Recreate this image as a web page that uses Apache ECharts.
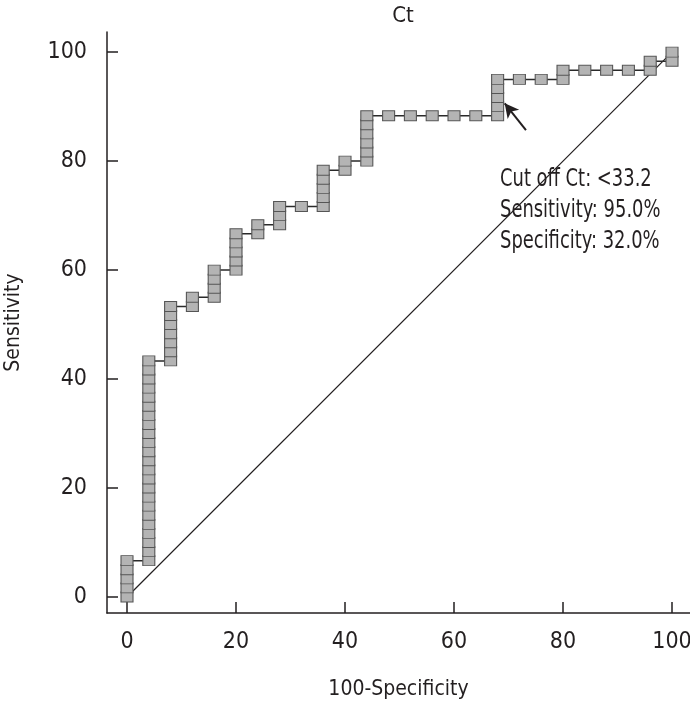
<!DOCTYPE html>
<html>
<head>
<meta charset="utf-8">
<script src="https://cdn.jsdelivr.net/npm/echarts@6/dist/echarts.min.js"></script>
<style>
  html, body { margin: 0; padding: 0; background: #fff; }
  #chart { width: 690px; height: 704px; }
</style>
</head>
<body>
<div id="chart"></div>
<script>
// ROC points (100-Specificity, Sensitivity)
const fpr = [
  0, 0, 0, 0, 0,
  4, 4, 4, 4, 4, 4, 4, 4, 4, 4, 4, 4, 4, 4, 4, 4, 4, 4, 4, 4, 4, 4, 4,
  8, 8, 8, 8, 8, 8, 8,
  12, 12,
  16, 16, 16, 16,
  20, 20, 20, 20, 20,
  24, 24,
  28, 28, 28,
  32,
  36, 36, 36, 36, 36,
  40, 40,
  44, 44, 44, 44, 44, 44,
  48, 52, 56, 60, 64,
  68, 68, 68, 68, 68,
  72, 76,
  80, 80,
  84, 88, 92,
  96, 96,
  100, 100
]
const sens = [
  0, 1.67, 3.33, 5, 6.67,
  6.67, 8.33, 10, 11.67, 13.33, 15, 16.67, 18.33, 20, 21.67, 23.33, 25, 26.67, 28.33, 30, 31.67, 33.33, 35, 36.67, 38.33, 40, 41.67, 43.33,
  43.33, 45, 46.67, 48.33, 50, 51.67, 53.33,
  53.33, 55,
  55, 56.67, 58.33, 60,
  60, 61.67, 63.33, 65, 66.67,
  66.67, 68.33,
  68.33, 70, 71.67,
  71.67,
  71.67, 73.33, 75, 76.67, 78.33,
  78.33, 80,
  80, 81.67, 83.33, 85, 86.67, 88.33,
  88.33, 88.33, 88.33, 88.33, 88.33,
  88.33, 90, 91.67, 93.33, 95,
  95, 95,
  95, 96.67,
  96.67, 96.67, 96.67,
  96.67, 98.33,
  98.33, 100
]
const refLine = [[0, 0], [100, 100]]
const arrowFrom = [73.2, 85.7]
const arrowTo = [69.3, 90.6]
const tickValues = [0, 20, 40, 60, 80, 100]
const noteLines = ['Cut off Ct: <33.2', 'Sensitivity: 95.0%', 'Specificity: 32.0%']

const font = '"Liberation Sans Narrow", "DejaVu Sans Condensed", "Arial Narrow", sans-serif'
const ink = '#231f20'

const chart = echarts.init(document.getElementById('chart'))

const axisCommon = {
  type: 'value',
  nameLocation: 'middle',
  nameTextStyle: { fontFamily: font, fontSize: 21, color: ink },
  axisLine: { show: true, onZero: false, lineStyle: { color: ink, width: 1.5 } },
  axisTick: { show: true, inside: true, length: 11, customValues: tickValues, lineStyle: { color: ink, width: 1.5 } },
  axisLabel: { customValues: tickValues, fontFamily: font, fontSize: 23, color: ink },
  splitLine: { show: false }
}

const option = {
  animation: false,
  backgroundColor: '#fff',
  title: {
    text: 'Ct',
    left: 398,
    top: 0,
    textAlign: 'center',
    textStyle: { fontFamily: font, fontSize: 22, fontWeight: 'normal', color: ink }
  },
  grid: { left: 107, right: 0, top: 32, bottom: 91, outerBoundsMode: 'none', containLabel: false },
  xAxis: Object.assign({}, axisCommon, {
    min: -3.67,
    max: 103.3,
    name: '100-Specificity',
    nameGap: 66,
    axisLabel: Object.assign({}, axisCommon.axisLabel, { margin: 18 })
  }),
  yAxis: Object.assign({}, axisCommon, {
    min: -2.94,
    max: 103.7,
    name: 'Sensitivity',
    nameGap: 83,
    axisLabel: Object.assign({}, axisCommon.axisLabel, { margin: 20 })
  }),
  graphic: [{
    type: 'text',
    x: 500,
    y: 164,
    scaleX: 0.83,
    style: {
      text: noteLines.join('\n'),
      font: '24px ' + font,
      lineHeight: 31,
      fill: ink
    }
  }],
  series: [
    {
      type: 'line',
      data: refLine,
      symbol: 'none',
      z: 1,
      lineStyle: { color: ink, width: 1.2 },
      markLine: {
        silent: true,
        symbol: ['none', 'arrow'],
        symbolSize: [11, 14],
        label: { show: false },
        lineStyle: { color: ink, width: 2, type: 'solid' },
        data: [[{ coord: arrowFrom }, { coord: arrowTo }]]
      }
    },
    {
      type: 'line',
      data: fpr.map((x, i) => [x, sens[i]]),
      symbol: 'rect',
      symbolSize: [12, 10],
      showAllSymbol: true,
      z: 3,
      lineStyle: { color: '#2a2a2a', width: 1.5 },
      itemStyle: { color: '#b4b4b4', borderColor: '#555', borderWidth: 1 }
    }
  ]
}

chart.setOption(option)
</script>
</body>
</html>
